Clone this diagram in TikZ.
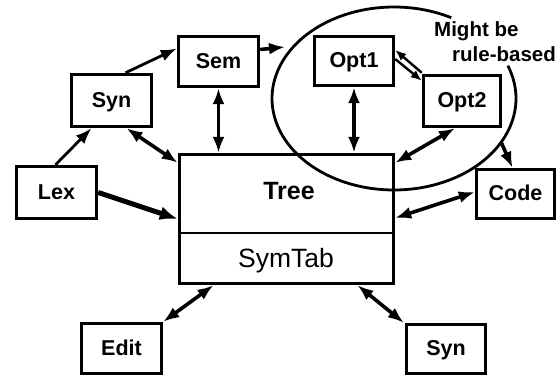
\documentclass[tikz,border=0pt]{standalone}
\usepackage{fontspec}
\setmainfont{Liberation Sans}
\usetikzlibrary{arrows.meta,calc}
\begin{document}
\begin{tikzpicture}[x=1pt,y=-1pt,
  lbl/.style={font=\fontsize{21.5}{25}\selectfont\bfseries},
  notelbl/.style={font=\fontsize{20.5}{24}\selectfont\bfseries},
  box/.style={draw, line width=3.4pt, inner sep=0pt, lbl, text height=15.5pt, text depth=2pt},
  conn/.style={line width=3.6pt},
  uni/.style={conn, -{Latex[length=16pt,width=12pt]}},
  bi/.style={conn, {Latex[length=16pt,width=12pt]}-{Latex[length=16pt,width=12pt]}},
  smalluni/.style={line width=2.4pt, -{Latex[length=11pt,width=9pt]}}
]
\useasboundingbox (0,0) rectangle (560,377);

% boxes
\node[box, minimum width=80pt, minimum height=52pt] (syn1) at (111.5,100.5) {Syn};
\node[box, minimum width=80pt, minimum height=50pt] (sem) at (218.5,61.5) {Sem};
\node[box, minimum width=80pt, minimum height=52pt] (lex) at (56.5,192.5) {Lex};
\node[box, minimum width=79pt, minimum height=49pt] (opt1) at (354,61) {Opt1};
\node[box, minimum width=77pt, minimum height=51pt] (opt2) at (462,101) {Opt2};
\node[box, minimum width=78pt, minimum height=49pt] (code) at (515.5,194) {Code};
\node[box, minimum width=80pt, minimum height=50pt] (edit) at (121.5,348.5) {Edit};
\node[box, minimum width=79pt, minimum height=49pt] (syn2) at (446,349) {Syn};

% Tree / SymTab
\node[draw, line width=3.4pt, minimum width=214pt, minimum height=129pt, inner sep=0pt] (tree) at (286.5,219) {};
\coordinate (divy) at (0,233);
\draw[line width=2.8pt] (tree.west |- divy) -- (tree.east |- divy);
\node[font=\fontsize{25}{28}\selectfont\bfseries, anchor=base, inner sep=0pt] (treelbl) at (289,200) {Tree};
\node[font=\fontsize{26.5}{30}\selectfont, anchor=base, inner sep=0pt] (symlbl) at (286,267) {SymTab};

% ellipse with gap for note
\draw[line width=2.8pt] plot[domain=-21:298, samples=140, smooth] ({394+122*cos(\x)},{98.5+91.5*sin(\x)});
\node[notelbl, anchor=base west, inner sep=0pt] (note1) at (434,37) {Might be};
\node[notelbl, anchor=base west, inner sep=0pt] (note2) at (452,62) {rule-based};

\coordinate (ellin) at (285,47);
\coordinate (ellout) at (501,142);

% connectors
\draw[uni, line width=2.8pt] ([xshift=-1pt]lex.north) -- ([xshift=-20pt]syn1.south);
\draw[uni, line width=2.8pt] ([xshift=14pt]syn1.north) -- ([yshift=13pt]sem.west);
\draw[uni] ([yshift=12pt]sem.east) -- (ellin);
\draw[bi] (sem.south) -- (sem.south |- tree.north);
\draw[bi] ([xshift=15pt]syn1.south) -- ([yshift=-10pt]tree.north west);
\draw[line width=5pt, -{Latex[length=18pt,width=14pt]}] (lex.east) -- (tree.west);
\draw[bi] (opt1.south) -- (opt1.south |- tree.north);
\draw[smalluni] ([yshift=1pt]opt2.north west) -- ([yshift=11pt]opt1.east);
\draw[smalluni] ([yshift=2pt]opt1.east) -- ([yshift=-7pt]opt2.north west);
\draw[bi] ([xshift=-7pt]opt2.south) -- ([yshift=-10pt]tree.north east);
\draw[uni] (ellout) -- ([xshift=-3pt]code.north);
\draw[bi] ([yshift=2pt]code.west) -- ([yshift=1pt]tree.east);
\draw[bi] ([xshift=-73pt]tree.south) -- (edit.north east);
\draw[bi] ([xshift=71pt]tree.south) -- ([xshift=-1pt]syn2.north west);
\end{tikzpicture}
\end{document}
